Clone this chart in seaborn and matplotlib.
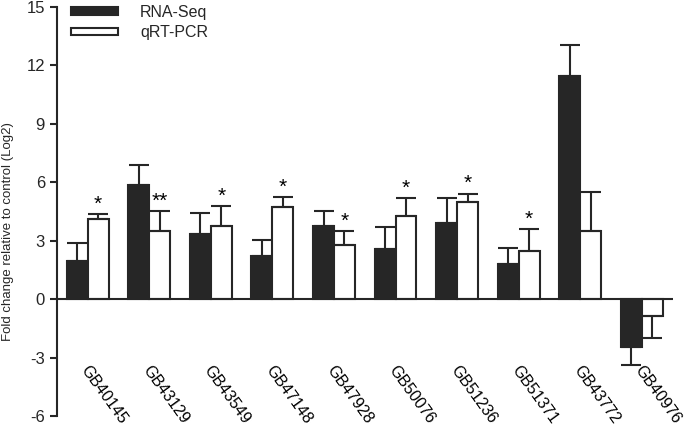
import pandas as pd
import matplotlib.pyplot as plt
import seaborn as sns
from matplotlib.patches import Patch

genes = ["GB40145", "GB43129", "GB43549", "GB47148", "GB47928",
         "GB50076", "GB51236", "GB51371", "GB43772", "GB40976"]
rna_seq = [1.95, 5.85, 3.34, 2.22, 3.75, 2.55, 3.92, 1.80, 11.45, -2.45]
rna_seq_err = [2.90, 6.88, 4.40, 3.01, 4.53, 3.71, 5.17, 2.63, 13.04, -3.39]
qrt_pcr = [4.09, 3.49, 3.76, 4.71, 2.77, 4.26, 4.96, 2.48, 3.49, -0.87]
qrt_pcr_err = [4.35, 4.53, 4.77, 5.25, 3.51, 5.20, 5.42, 3.61, 5.51, -2.02]
marks = ["*", "**", "*", "*", "*", "*", "*", "*", "", ""]

dark = "#262626"

df = pd.DataFrame({
    "gene": genes * 2,
    "metodo": ["RNA-Seq"] * len(genes) + ["qRT-PCR"] * len(genes),
    "valor": rna_seq + qrt_pcr,
})

sns.set_style("ticks")
plt.rcParams["font.family"] = ["Liberation Sans", "DejaVu Sans"]
plt.rcParams["axes.unicode_minus"] = False

fig = plt.figure(figsize=(6.85, 4.28), dpi=100)
ax = fig.add_axes([0.083, 0.028, 0.899, 0.956])

sns.barplot(data=df, x="gene", y="valor", hue="metodo", ax=ax,
            palette={"RNA-Seq": dark, "qRT-PCR": "white"},
            edgecolor=dark, linewidth=1.5, width=0.68, gap=0,
            errorbar=None, legend=False)

# barras de erro só para fora do zero
tips = [rna_seq_err, qrt_pcr_err]
vals = [rna_seq, qrt_pcr]
bar_conts = list(ax.containers)
for k, cont in enumerate(bar_conts):
    for i, bar in enumerate(cont):
        xc = bar.get_x() + bar.get_width() / 2
        v, t = vals[k][i], tips[k][i]
        if t >= v:
            yerr = [[0], [t - v]]
        else:
            yerr = [[v - t], [0]]
        ax.errorbar(xc, v, yerr=yerr, color=dark, lw=1.5, capsize=7,
                    capthick=1.5, zorder=1)
        if k == 1 and marks[i]:
            ax.text(xc, t + 0.02, marks[i], ha="center", va="bottom",
                    fontsize=15, color="black")

ax.axhline(0, color=dark, lw=1.5, zorder=3)

for i, g in enumerate(genes):
    ax.text(i + 0.04, -3.3, g, rotation=-54, rotation_mode="anchor",
            ha="left", va="top", fontsize=11.5, color="black")

ax.set_xlim(-0.5, 9.5)
ax.set_ylim(-6, 15)
ax.set_yticks(range(-6, 16, 3))
ax.set_xticks([])
ax.set_xlabel("")
ax.set_ylabel("Fold change relative to control (Log2)", fontsize=9.5)
ax.yaxis.set_label_coords(-0.07, 0.45)
ax.tick_params(axis="y", labelsize=12, length=5, width=1.5, color=dark)
for s in ["top", "right", "bottom"]:
    ax.spines[s].set_visible(False)
ax.spines["left"].set_linewidth(1.5)
ax.spines["left"].set_color(dark)

handles = [Patch(facecolor=dark, edgecolor=dark, lw=1.5),
           Patch(facecolor="white", edgecolor=dark, lw=1.5)]
ax.legend(handles, ["RNA-Seq", "qRT-PCR"], loc="upper left",
          bbox_to_anchor=(0.0, 1.04), frameon=False, fontsize=11.5,
          handlelength=2.9, handleheight=0.35, handletextpad=1.4,
          labelspacing=0.35)

plt.savefig("out.png", dpi=100)
